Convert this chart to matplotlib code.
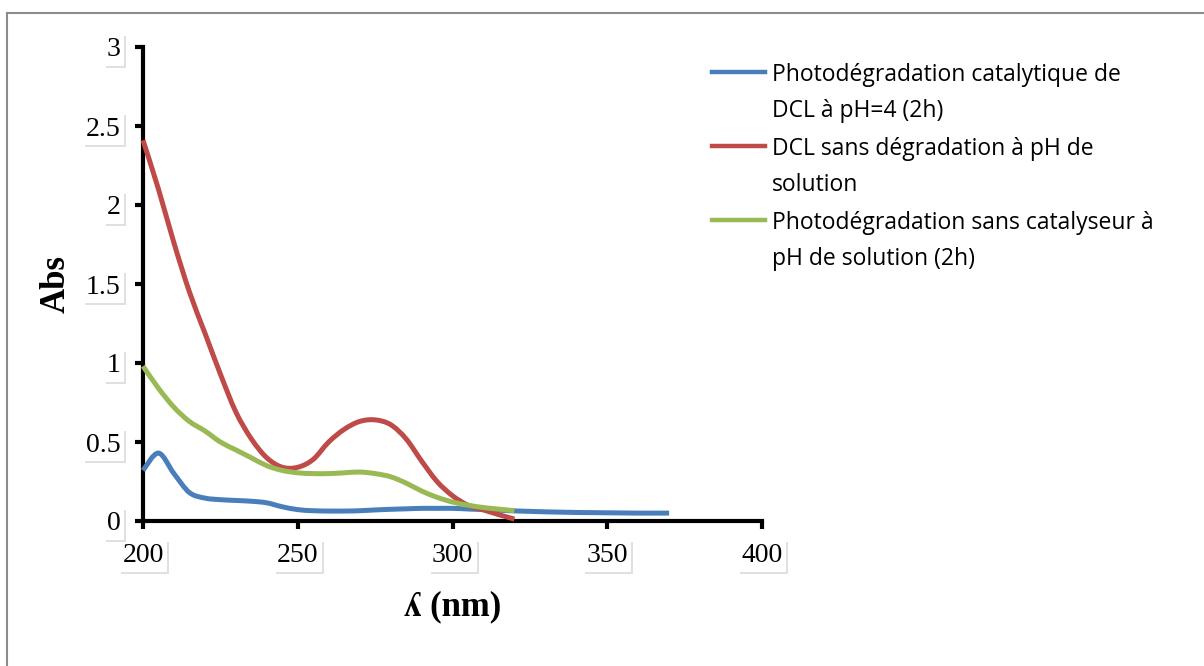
import matplotlib
matplotlib.use("Agg")
import matplotlib.pyplot as plt
import matplotlib.patheffects as pe
from matplotlib.lines import Line2D
from matplotlib.path import Path
from matplotlib.patches import PathPatch
from matplotlib.ticker import FuncFormatter

# wavelengths (nm) and absorbances
wl_blue = [200, 205, 210, 215, 220, 225, 230, 235, 240, 245, 250, 255, 260, 265,
           270, 275, 280, 285, 290, 295, 300, 305, 310, 315, 320, 325, 330, 335,
           340, 345, 350, 355, 360, 365, 370]
abs_blue = [0.32, 0.43, 0.30, 0.18, 0.145, 0.135, 0.13, 0.125, 0.115, 0.09, 0.072,
            0.065, 0.063, 0.063, 0.065, 0.07, 0.074, 0.077, 0.08, 0.08, 0.08, 0.076,
            0.072, 0.068, 0.064, 0.061, 0.058, 0.056, 0.054, 0.053, 0.052, 0.051,
            0.05, 0.05, 0.05]

wl_red = [200, 205, 210, 215, 220, 225, 230, 235, 240, 245, 250, 255, 260, 265,
          270, 275, 280, 285, 290, 295, 300, 305, 310, 315, 320]
abs_red = [2.41, 2.10, 1.76, 1.45, 1.19, 0.93, 0.69, 0.52, 0.40, 0.34, 0.34, 0.39,
           0.50, 0.58, 0.63, 0.64, 0.61, 0.52, 0.38, 0.25, 0.16, 0.10, 0.07, 0.04,
           0.012]

wl_green = wl_red
abs_green = [0.98, 0.84, 0.72, 0.63, 0.57, 0.50, 0.45, 0.40, 0.35, 0.32, 0.305,
             0.30, 0.30, 0.305, 0.31, 0.30, 0.28, 0.24, 0.19, 0.15, 0.12, 0.10,
             0.085, 0.075, 0.065]

labels = ["Photodégradation catalytique de\nDCL à pH=4 (2h)",
          "DCL sans dégradation à pH de\nsolution",
          "Photodégradation sans catalyseur à\npH de solution (2h)"]
colors = ["#4A7EBB", "#BE4B48", "#98B954"]


def smooth_path(x, y):
    # excel-like "smoothed line": cubic bezier segments through the points
    n = len(x)
    verts = [(x[0], y[0])]
    codes = [Path.MOVETO]
    for i in range(n - 1):
        i0 = max(i - 1, 0)
        i3 = min(i + 2, n - 1)
        c1 = (x[i] + (x[i + 1] - x[i0]) / 6, y[i] + (y[i + 1] - y[i0]) / 6)
        c2 = (x[i + 1] - (x[i3] - x[i]) / 6, y[i + 1] - (y[i3] - y[i]) / 6)
        verts += [c1, c2, (x[i + 1], y[i + 1])]
        codes += [Path.CURVE4] * 3
    return Path(verts, codes)


W, H = 1204, 666
fig = plt.figure(figsize=(W / 100, H / 100), dpi=100)
ax = fig.add_axes([143 / W, 1 - 521 / H, (762 - 143) / W, (521 - 47) / H])

series = [(wl_blue, abs_blue), (wl_red, abs_red), (wl_green, abs_green)]
for (x, y), c in zip(series, colors):
    ax.add_patch(PathPatch(smooth_path(x, y), fc="none", ec=c, lw=3.6,
                           joinstyle="round", capstyle="butt", clip_on=False,
                           zorder=3))

ax.set_xlim(200, 400)
ax.set_ylim(0, 3)
ax.set_xticks([200, 250, 300, 350, 400])
ax.set_yticks([0, 0.5, 1, 1.5, 2, 2.5, 3])
ax.yaxis.set_major_formatter(FuncFormatter(lambda v, p: "%g" % v))
for s in ["top", "right"]:
    ax.spines[s].set_visible(False)
for s in ["left", "bottom"]:
    ax.spines[s].set_linewidth(3)
ax.tick_params(axis="both", direction="out", length=6, width=3,
               labelsize=20, pad=10)
serif = ["Liberation Serif", "DejaVu Serif"]
shadow = [pe.SimplePatchShadow(offset=(1.5, -1.5), shadow_rgbFace="0.6", alpha=0.3),
          pe.Normal()]
for lbl in ax.get_xticklabels() + ax.get_yticklabels():
    lbl.set_family(serif)
    lbl.set_bbox(dict(boxstyle="square,pad=0.12", fc="white", ec="none"))
    lbl.get_bbox_patch().set_path_effects(shadow)

ax.set_xlabel("ʎ (nm)", fontsize=25, fontweight="bold", family=serif, labelpad=16)
ax.set_ylabel("Abs", fontsize=25, fontweight="bold", family=serif, labelpad=10)

# legend drawn by hand: handle sits beside first line of each label
for i, (lab, c) in enumerate(zip(labels, colors)):
    yb = 83 + i * 74
    fig.add_artist(Line2D([712 / W, 765 / W], [1 - (yb - 11) / H] * 2,
                          color=c, lw=3.2, transform=fig.transFigure))
    fig.text(772 / W, 1 - (yb - 20) / H, lab, fontsize=16.5,
             family=["Open Sans", "DejaVu Sans"],
             va="top", ha="left", linespacing=1.66)

# outer chart border
fig.add_artist(Line2D([7 / W, 1.0], [1 - 12.5 / H] * 2, color="#8c8c8c", lw=1.5,
                      transform=fig.transFigure))
fig.add_artist(Line2D([7 / W] * 2, [1 - 12.5 / H, 0], color="#8c8c8c", lw=1.5,
                      transform=fig.transFigure))

fig.savefig("out.png", dpi=100)
